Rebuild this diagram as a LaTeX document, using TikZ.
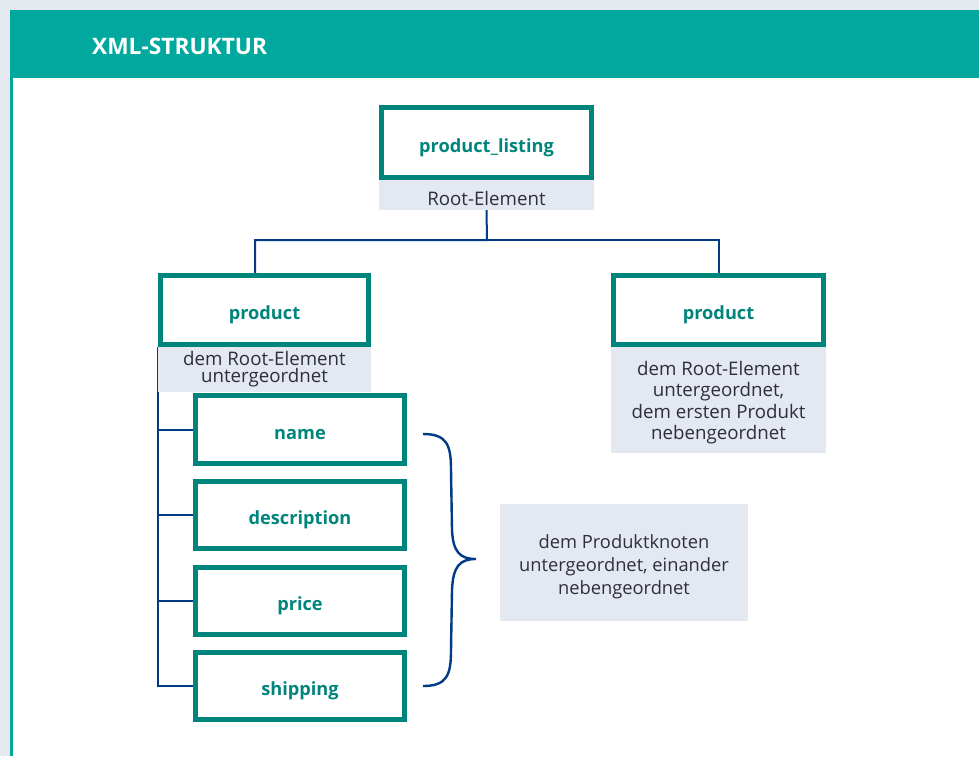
\documentclass[tikz,border=0pt]{standalone}
\usepackage{fontspec}
\setmainfont{Open Sans}
\usetikzlibrary{backgrounds}
\definecolor{bgpage}{RGB}{228,232,239}
\definecolor{headteal}{RGB}{0,168,157}
\definecolor{boxteal}{RGB}{0,133,124}
\definecolor{conn}{RGB}{0,59,135}
\definecolor{lblgray}{RGB}{228,232,240}
\definecolor{txtdark}{RGB}{45,48,56}
\tikzset{
  elem/.style={draw=boxteal, line width=5pt, fill=white, inner sep=0pt,
    text=boxteal, font=\fontsize{18.2}{22}\selectfont\bfseries,
    text height=19.5pt, text depth=0pt},
  lblbox/.style={fill=lblgray, inner sep=0pt},
  lbltext/.style={inner sep=0pt, text=txtdark, align=center, anchor=north},
  conline/.style={draw=conn, line width=2pt},
}
\begin{document}
\begin{tikzpicture}[x=1pt,y=-1pt]
\useasboundingbox (0,0) rectangle (979,756);
\begin{pgfonlayer}{background}
\fill[bgpage] (0,0) rectangle (979,756);
\fill[white] (10,78) rectangle (979,756);
\fill[headteal] (10,10) rectangle (979,78);
\fill[headteal] (10,78) rectangle (13,756);
\end{pgfonlayer}
\node[anchor=base west, text=white, font=\fontsize{22.7}{27}\selectfont\bfseries, inner sep=0pt] (title) at (92,54) {XML-STRUKTUR};

\node[elem, minimum width=210pt, minimum height=70pt] (root) at (486.5,142.5) {product\_listing};
\node[lblbox, minimum width=215pt, minimum height=30pt] (rootlbl) at (486.5,195) {};
\node[lbltext, font=\fontsize{18.7}{22}\selectfont] (rootlblt) at (486.5,190.8) {Root-Element};

\node[elem, minimum width=208pt, minimum height=69pt] (prodL) at (264.5,310) {product};
\node[lblbox, minimum width=213pt, minimum height=45pt] (lblL) at (264.5,369.5) {};
\node[lbltext, font=\fontsize{18.7}{16.8}\selectfont] (lblLt) at (264.5,350.8) {dem Root-Element\\untergeordnet};

\node[elem, minimum width=210pt, minimum height=69pt] (prodR) at (718.5,310) {product};
\node[lblbox, minimum width=215pt, minimum height=106pt] (lblR) at (718.5,400) {};
\node[lbltext, font=\fontsize{18.7}{21.5}\selectfont] (lblRt) at (718.5,360.8) {dem Root-Element\\untergeordnet,\\dem ersten Produkt\\nebengeordnet};

\node[elem, minimum width=209pt, minimum height=68pt] (name) at (300,429.5) {name};
\node[elem, minimum width=209pt, minimum height=67pt] (desc) at (300,515) {description};
\node[elem, minimum width=209pt, minimum height=67pt] (price) at (300,601) {price};
\node[elem, minimum width=209pt, minimum height=67pt] (ship) at (300,686) {shipping};

\node[lblbox, minimum width=248pt, minimum height=117pt] (note) at (624,562.5) {};
\node[lbltext, font=\fontsize{18.3}{23}\selectfont] (notet) at (624,534) {dem Produktknoten\\untergeordnet, einander\\nebengeordnet};

\coordinate (j) at (487,240);
\coordinate (jl) at (255,240);
\coordinate (vtop) at (158,347);
\coordinate (bs) at (423,434);
\coordinate (bt) at (476,559);
\coordinate (be) at (423,686);

\begin{pgfonlayer}{background}
\draw[conline] (rootlbl.south) -- (j) -- (jl) -- (jl |- prodL.north);
\draw[conline] (j) -| (prodR.north);
\draw[conline] (vtop) |- (ship.west);
\draw[conline] (vtop |- name.west) -- (name.west);
\draw[conline] (vtop |- desc.west) -- (desc.west);
\draw[conline] (vtop |- price.west) -- (price.west);
\end{pgfonlayer}

\draw[conn, line width=2.4pt] (bs) .. controls (447,434) and (451,445) .. (451,470)
  -- (452,530) .. controls (453,552) and (460,559) .. (bt)
  .. controls (460,559) and (453,566) .. (452,590)
  -- (451,650) .. controls (451,675) and (447,686) .. (be);
\end{tikzpicture}
\end{document}
